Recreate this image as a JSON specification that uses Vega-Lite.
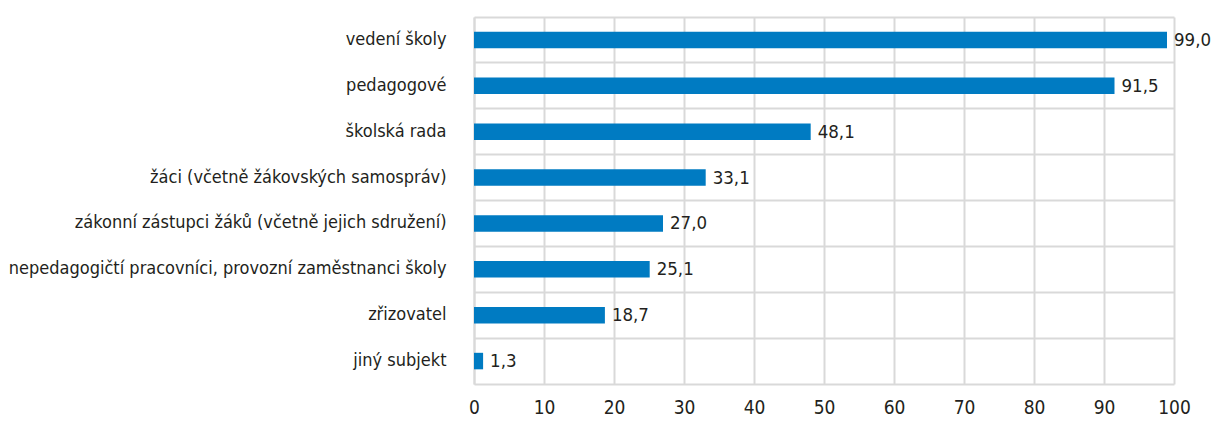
{
  "$schema": "https://vega.github.io/schema/vega-lite/v6.json",
  "autosize": "none",
  "width": 700,
  "height": 367,
  "padding": {"left": 474, "top": 17, "right": 37, "bottom": 44},
  "background": "white",
  "data": {
    "values": [
      {"subjekt": "vedení školy", "hodnota": 99.0},
      {"subjekt": "pedagogové", "hodnota": 91.5},
      {"subjekt": "školská rada", "hodnota": 48.1},
      {"subjekt": "žáci (včetně žákovských samospráv)", "hodnota": 33.1},
      {"subjekt": "zákonní zástupci žáků (včetně jejich sdružení)", "hodnota": 27.0},
      {"subjekt": "nepedagogičtí pracovníci, provozní zaměstnanci školy", "hodnota": 25.1},
      {"subjekt": "zřizovatel", "hodnota": 18.7},
      {"subjekt": "jiný subjekt", "hodnota": 1.3}
    ]
  },
  "encoding": {
    "y": {
      "field": "subjekt",
      "type": "nominal",
      "sort": null,
      "title": null,
      "scale": {"paddingInner": 0, "paddingOuter": 0},
      "axis": {
        "domain": true,
        "domainColor": "#d9d9d9",
        "domainWidth": 2,
        "ticks": false,
        "grid": true,
        "gridColor": "#d9d9d9",
        "gridWidth": 2,
        "bandPosition": 0,
        "labelPadding": 28,
        "labelFont": "DejaVu Sans Condensed, sans-serif",
        "labelFontSize": 18,
        "labelColor": "#231f20",
        "labelLimit": 600
      }
    },
    "x": {
      "field": "hodnota",
      "type": "quantitative",
      "title": null,
      "scale": {"domain": [0, 100], "nice": false},
      "axis": {
        "values": [0, 10, 20, 30, 40, 50, 60, 70, 80, 90, 100],
        "domain": true,
        "domainColor": "#d9d9d9",
        "domainWidth": 2,
        "ticks": false,
        "grid": true,
        "gridColor": "#d9d9d9",
        "gridWidth": 2,
        "labelPadding": 14,
        "labelFont": "DejaVu Sans Condensed, sans-serif",
        "labelFontSize": 19,
        "labelColor": "#231f20",
        "labelFlush": false
      }
    }
  },
  "layer": [
    {
      "mark": {"type": "bar", "color": "#007bc2", "height": {"band": 0.36}}
    },
    {
      "mark": {
        "type": "text",
        "align": "left",
        "baseline": "middle",
        "dx": 7,
        "font": "DejaVu Sans Condensed, sans-serif",
        "fontSize": 18.5,
        "color": "#231f20"
      },
      "encoding": {
        "text": {"field": "hodnota", "type": "quantitative", "format": ".1f"}
      }
    }
  ],
  "config": {
    "view": {"stroke": null},
    "locale": {
      "number": {"decimal": ",", "thousands": " ", "grouping": [3], "currency": ["", " Kč"]}
    }
  }
}
